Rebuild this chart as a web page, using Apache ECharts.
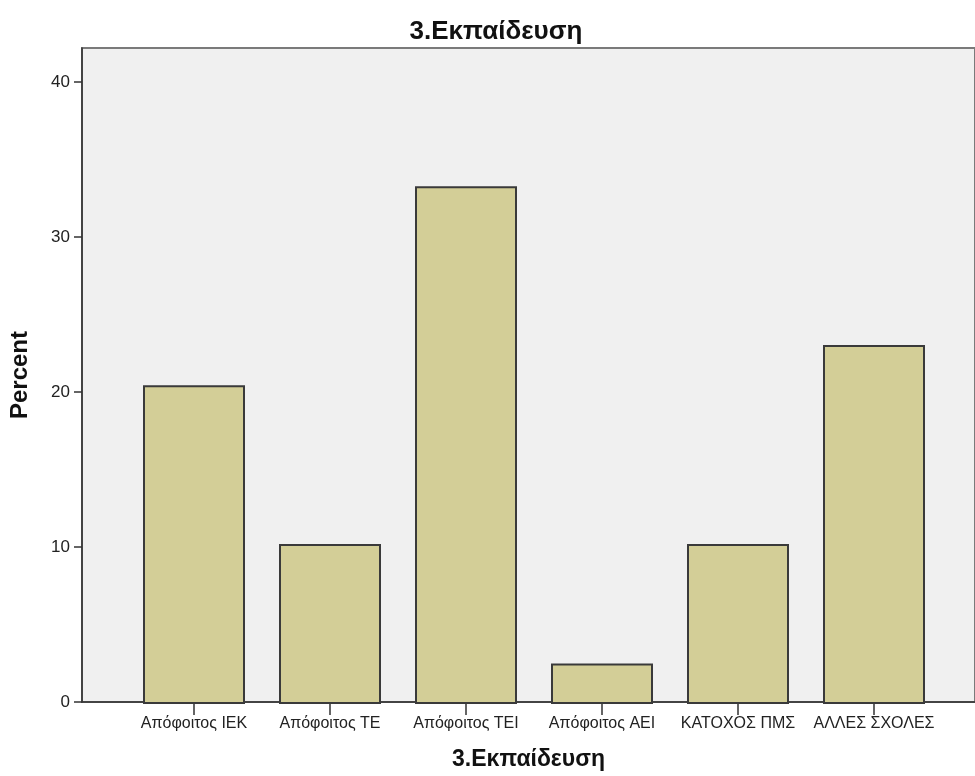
<!DOCTYPE html>
<html>
<head>
<meta charset="utf-8">
<script src="https://cdn.jsdelivr.net/npm/echarts@6/dist/echarts.min.js"></script>
<style>
    html, body { margin: 0; padding: 0; background: #fff; }
    #chart { width: 975px; height: 776px; }
</style>
</head>
<body>
<div id="chart"></div>
<script>
    var categories = ['Απόφοιτος ΙΕΚ', 'Απόφοιτος ΤΕ', 'Απόφοιτος ΤΕΙ', 'Απόφοιτος ΑΕΙ', 'ΚΑΤΟΧΟΣ ΠΜΣ', 'ΑΛΛΕΣ ΣΧΟΛΕΣ']
    var percent = [20.5, 10.3, 33.3, 2.6, 10.3, 23.1]
    var yTicks = [0, 10, 20, 30, 40]

    var font = "'Liberation Sans', Arial, sans-serif"
    var yMax = 42.2

    var option = {
        animation: false,
        backgroundColor: '#fff',
        textStyle: { fontFamily: font },
        title: {
            text: '3.Εκπαίδευση',
            left: 491,
            top: 14,
            textAlign: 'center',
            textStyle: { fontFamily: font, fontSize: 26, fontWeight: 'bold', color: '#111' }
        },
        grid: [
            // frame + background of the plot
            { left: 80, right: 0, top: 48, bottom: 72, show: true, backgroundColor: '#F0F0F0', borderColor: '#7a7a7a', borderWidth: 2 },
            // bars sit inside, with SPSS style side padding
            { left: 126, width: 816, top: 48, bottom: 72 }
        ],
        xAxis: [
            {
                gridIndex: 0, type: 'value', min: 0, max: 1,
                axisLine: { show: true, onZero: false, lineStyle: { color: '#333', width: 1.5 } },
                axisTick: { show: false },
                axisLabel: { show: false },
                splitLine: { show: false },
                name: '3.Εκπαίδευση',
                nameLocation: 'middle',
                nameGap: 46,
                nameTextStyle: { fontFamily: font, fontSize: 23, fontWeight: 'bold', color: '#111' }
            },
            {
                gridIndex: 1, type: 'category', data: categories,
                axisLine: { show: false },
                axisTick: { show: true, interval: 0, alignWithLabel: true, length: 11, lineStyle: { color: '#333', width: 1.5 } },
                axisLabel: { interval: 0, margin: 12, fontFamily: font, fontSize: 16, color: '#222' }
            }
        ],
        yAxis: [
            {
                gridIndex: 0, type: 'value', min: 0, max: yMax,
                axisLine: { show: true, lineStyle: { color: '#333', width: 1.5 } },
                axisTick: { show: true, length: 8, customValues: yTicks, lineStyle: { color: '#333', width: 1.5 } },
                axisLabel: { margin: 12, customValues: yTicks, fontFamily: font, fontSize: 17, color: '#222' },
                splitLine: { show: false },
                name: 'Percent',
                nameLocation: 'middle',
                nameGap: 50,
                nameTextStyle: { fontFamily: font, fontSize: 24, fontWeight: 'bold', color: '#111' }
            },
            {
                gridIndex: 1, type: 'value', min: 0, max: yMax, show: false,
                splitLine: { show: false }
            }
        ],
        series: [
            {
                type: 'bar',
                xAxisIndex: 1,
                yAxisIndex: 1,
                data: percent,
                barWidth: 102,
                itemStyle: { color: '#D3CE97', borderColor: '#3a3a3a', borderWidth: 2 }
            }
        ]
    }

    var myChart = echarts.init(document.getElementById('chart'))
    myChart.setOption(option)
</script>
</body>
</html>
